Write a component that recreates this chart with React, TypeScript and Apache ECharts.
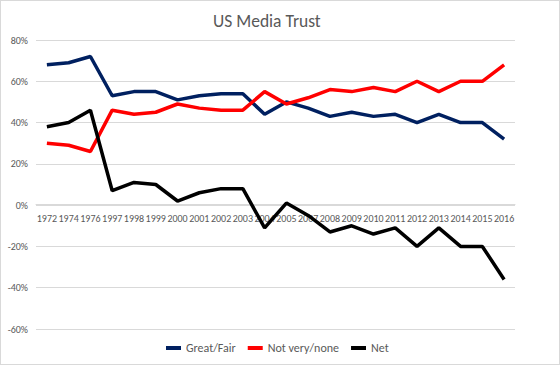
import React, { useEffect, useRef } from "react";
import * as echarts from "echarts";

const years = ["1972","1974","1976","1997","1998","1999","2000","2001","2002","2003","2004","2005","2007","2008","2009","2010","2011","2012","2013","2014","2015","2016"];
const greatFair = [68,69,72,53,55,55,51,53,54,54,44,50,47,43,45,43,44,40,44,40,40,32];
const notVery = [30,29,26,46,44,45,49,47,46,46,55,49,52,56,55,57,55,60,55,60,60,68];
const net = [38,40,46,7,11,10,2,6,8,8,-11,1,-5,-13,-10,-14,-11,-20,-11,-20,-20,-36];
const yTicks = { min: -60, max: 80, interval: 20 };

export default function App() {
  const ref = useRef<HTMLDivElement>(null);
  useEffect(() => {
    document.body.style.margin = "0";
    const chart = echarts.init(ref.current!, undefined, { renderer: "svg" });
    const gray = "#595959";
    const font = "Carlito, 'Liberation Sans', sans-serif";
    chart.setOption({
      animation: false,
      backgroundColor: "#ffffff",
      title: {
        text: "US Media Trust",
        left: 207,
        top: 6,
        textStyle: { color: gray, fontSize: 17.5, fontWeight: "normal", fontFamily: font },
      },
      grid: { left: 35, right: 44, top: 39, bottom: 35, containLabel: false },
      legend: {
        bottom: 5,
        left: 160,
        icon: "rect",
        itemWidth: 15,
        itemHeight: 4,
        itemGap: 12,
        textStyle: { color: gray, fontSize: 12, fontFamily: font },
        data: ["Great/Fair", "Not very/none", "Net"],
      },
      xAxis: {
        type: "category",
        data: years,
        boundaryGap: true,
        offset: -125,
        axisLine: { show: true, onZero: false, lineStyle: { color: "#d9d9d9" } },
        axisTick: { show: false },
        axisLabel: { interval: 0, color: gray, fontSize: 10, fontFamily: font, margin: 9 },
      },
      yAxis: {
        type: "value",
        min: yTicks.min,
        max: yTicks.max,
        interval: yTicks.interval,
        axisLine: { show: false },
        axisTick: { show: false },
        axisLabel: { color: gray, fontSize: 10, fontFamily: font, formatter: (v: number) => v + "%", margin: 8 },
        splitLine: { lineStyle: { color: "#d9d9d9" } },
      },
      series: [
        { name: "Great/Fair", type: "line", data: greatFair, showSymbol: false, symbol: "none", lineStyle: { color: "#002060", width: 3.5 }, itemStyle: { color: "#002060" } },
        { name: "Not very/none", type: "line", data: notVery, showSymbol: false, symbol: "none", lineStyle: { color: "#ff0000", width: 3.5 }, itemStyle: { color: "#ff0000" } },
        { name: "Net", type: "line", data: net, showSymbol: false, symbol: "none", lineStyle: { color: "#000000", width: 3.5 }, itemStyle: { color: "#000000" } },
      ],
    });
    return () => chart.dispose();
  }, []);
  return (
    <div
      ref={ref}
      style={{ width: 560, height: 365, boxSizing: "border-box", border: "1px solid #d9d9d9" }}
    />
  );
}
